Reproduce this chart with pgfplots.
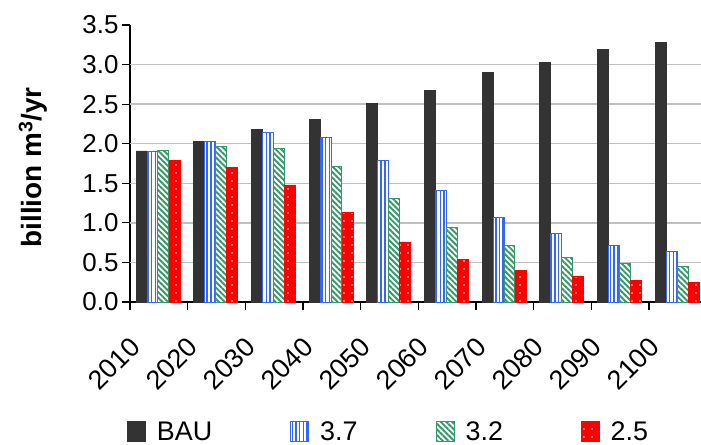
\documentclass[border=0pt]{standalone}
\usepackage{fontspec}
\setmainfont{Liberation Sans}
\usepackage{pgfplots}
\pgfplotsset{compat=1.18}
\usetikzlibrary{patterns.meta}
\definecolor{baugray}{HTML}{333333}
\definecolor{blueA}{HTML}{3366FF}
\definecolor{greenA}{HTML}{339966}
\definecolor{redA}{HTML}{FF0000}
\definecolor{gridgray}{HTML}{C0C0C0}
\tikzset{
  sBAU/.style={fill=baugray, draw=baugray, line width=0.6bp},
  s37/.style={fill=white, draw=blueA, line width=1bp, postaction={pattern={Lines[angle=90,distance=3.7bp,line width=1.5bp]}, pattern color=blueA}},
  s32/.style={fill=white, draw=greenA, line width=1bp, postaction={pattern={Lines[angle=-45,distance=4bp,line width=1.9bp]}, pattern color=greenA}},
  s25/.style={fill=redA, draw=redA, line width=0.6bp, postaction={pattern={Dots[distance=8bp,radius=0.9bp]}, pattern color=white}},
}
\begin{document}
\begin{tikzpicture}
\begin{axis}[
  scale only axis,
  width=571bp, height=277bp,
  xmin=-0.5, xmax=9.4,
  ymin=0, ymax=3.5,
  axis x line=bottom, axis y line=left,
  axis line style={-, black, line width=1.2bp},
  tick align=outside,
  major tick length=8bp,
  tick style={black, line width=1.2bp},
  ytick={0,0.5,...,3.5},
  yticklabel style={/pgf/number format/fixed, /pgf/number format/fixed zerofill, /pgf/number format/precision=1, /pgf/number format/assume math mode=true, font=\fontsize{26}{30}\selectfont},
  extra y ticks={0.5,1,1.5,2,2.5,3},
  extra y tick labels={},
  extra y tick style={grid=major, major tick length=0pt},
  major grid style={gridgray, line width=1.5bp},
  xtick={-0.5,0.5,...,8.5},
  xticklabels={},
  extra x ticks={0,1,2,3,4,5,6,7,8,9},
  extra x tick labels={2010,2020,2030,2040,2050,2060,2070,2080,2090,2100},
  extra x tick style={major tick length=0pt},
  x tick label style={anchor=east, rotate=45, xshift=-42bp, yshift=-12bp, font=\fontsize{27}{31}\selectfont},
  ylabel={\bfseries billion m\textsuperscript{3}/yr},
  ylabel style={at={(axis description cs:-0.17,0.486)}, anchor=center, font=\fontsize{28}{32}\selectfont},
  ybar, bar width=0.19,
  legend columns=4,
  legend style={at={(axis description cs:-0.005,-0.468)}, anchor=west, draw=none, fill=none, inner sep=0pt,
    font=\fontsize{27}{32}\selectfont,
    nodes={inner sep=0pt},
    /tikz/every odd column/.append style={column sep=11bp},
    /tikz/every even column/.append style={column sep=78bp}},
  legend image code/.code={\draw[#1] (0bp,-10bp) rectangle (18bp,10bp);},
]
\addplot[sBAU, bar shift=-0.30] coordinates {(0,1.91) (1,2.03) (2,2.18) (3,2.31) (4,2.51) (5,2.67) (6,2.90) (7,3.03) (8,3.19) (9,3.28)};
\addplot[s37, bar shift=-0.11] coordinates {(0,1.90) (1,2.03) (2,2.14) (3,2.08) (4,1.79) (5,1.41) (6,1.07) (7,0.86) (8,0.72) (9,0.64)};
\addplot[s32, bar shift=0.08] coordinates {(0,1.92) (1,1.96) (2,1.94) (3,1.71) (4,1.31) (5,0.94) (6,0.71) (7,0.56) (8,0.49) (9,0.45)};
\addplot[s25, bar shift=0.27] coordinates {(0,1.79) (1,1.70) (2,1.48) (3,1.13) (4,0.76) (5,0.54) (6,0.40) (7,0.33) (8,0.27) (9,0.25)};
\legend{BAU,3.7,3.2,2.5}
\end{axis}
\pgfresetboundingbox
\useasboundingbox (-130bp,-143bp) rectangle (571bp,302bp);
\end{tikzpicture}
\end{document}
